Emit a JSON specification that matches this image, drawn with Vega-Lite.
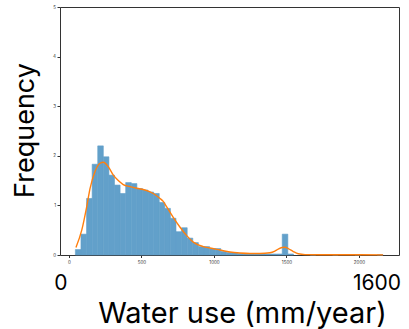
{
  "$schema": "https://vega.github.io/schema/vega-lite/v6.json",
  "width": 339,
  "height": 248,
  "autosize": {"type": "none"},
  "padding": {"left": 60, "top": 7, "right": 10, "bottom": 74},
  "config": {
    "view": {"stroke": "#333", "strokeWidth": 1},
    "font": "Inter",
    "axis": {"grid": false}
  },
  "datasets": {
    "bars": [
      {"x0": 44.0, "x1": 82.6, "h": 0.11},
      {"x0": 82.6, "x1": 121.1, "h": 0.42},
      {"x0": 121.1, "x1": 159.7, "h": 1.14},
      {"x0": 159.7, "x1": 198.2, "h": 1.83},
      {"x0": 198.2, "x1": 236.8, "h": 2.2},
      {"x0": 236.8, "x1": 275.4, "h": 1.98},
      {"x0": 275.4, "x1": 313.9, "h": 1.61},
      {"x0": 313.9, "x1": 352.5, "h": 1.41},
      {"x0": 352.5, "x1": 391.0, "h": 1.24},
      {"x0": 391.0, "x1": 429.6, "h": 1.46},
      {"x0": 429.6, "x1": 468.2, "h": 1.44},
      {"x0": 468.2, "x1": 506.7, "h": 1.34},
      {"x0": 506.7, "x1": 545.3, "h": 1.31},
      {"x0": 545.3, "x1": 583.8, "h": 1.27},
      {"x0": 583.8, "x1": 622.4, "h": 1.24},
      {"x0": 622.4, "x1": 661.0, "h": 1.06},
      {"x0": 661.0, "x1": 699.5, "h": 0.94},
      {"x0": 699.5, "x1": 738.1, "h": 0.74},
      {"x0": 738.1, "x1": 776.6, "h": 0.47},
      {"x0": 776.6, "x1": 815.2, "h": 0.55},
      {"x0": 815.2, "x1": 853.8, "h": 0.34},
      {"x0": 853.8, "x1": 892.3, "h": 0.25},
      {"x0": 892.3, "x1": 930.9, "h": 0.17},
      {"x0": 930.9, "x1": 969.4, "h": 0.17},
      {"x0": 969.4, "x1": 1008.0, "h": 0.13},
      {"x0": 1008.0, "x1": 1046.6, "h": 0.13},
      {"x0": 1046.6, "x1": 1085.1, "h": 0.07},
      {"x0": 1085.1, "x1": 1123.7, "h": 0.05},
      {"x0": 1123.7, "x1": 1162.2, "h": 0.05},
      {"x0": 1162.2, "x1": 1200.8, "h": 0.03},
      {"x0": 1200.8, "x1": 1239.4, "h": 0.03},
      {"x0": 1239.4, "x1": 1277.9, "h": 0.02},
      {"x0": 1277.9, "x1": 1316.5, "h": 0.02},
      {"x0": 1316.5, "x1": 1355.0, "h": 0.02},
      {"x0": 1355.0, "x1": 1393.6, "h": 0.02},
      {"x0": 1393.6, "x1": 1432.2, "h": 0.02},
      {"x0": 1432.2, "x1": 1470.7, "h": 0.02},
      {"x0": 1470.7, "x1": 1509.3, "h": 0.42},
      {"x0": 1509.3, "x1": 1547.8, "h": 0.02},
      {"x0": 1663.5, "x1": 1702.1, "h": 0.006},
      {"x0": 1817.8, "x1": 1856.3, "h": 0.006},
      {"x0": 1972.0, "x1": 2010.6, "h": 0.006},
      {"x0": 2126.2, "x1": 2164.8, "h": 0.006}
    ],
    "kde": [
      {"x": 48, "d": 0.15}, {"x": 88, "d": 0.5}, {"x": 122, "d": 0.97},
      {"x": 145, "d": 1.34}, {"x": 179, "d": 1.68}, {"x": 214, "d": 1.85},
      {"x": 237, "d": 1.87}, {"x": 271, "d": 1.78}, {"x": 306, "d": 1.61},
      {"x": 340, "d": 1.5}, {"x": 374, "d": 1.42}, {"x": 421, "d": 1.38},
      {"x": 478, "d": 1.34}, {"x": 524, "d": 1.31}, {"x": 581, "d": 1.24},
      {"x": 628, "d": 1.14}, {"x": 650, "d": 1.08}, {"x": 674, "d": 0.97},
      {"x": 719, "d": 0.76}, {"x": 766, "d": 0.56}, {"x": 812, "d": 0.39},
      {"x": 857, "d": 0.26}, {"x": 926, "d": 0.17}, {"x": 972, "d": 0.14},
      {"x": 1041, "d": 0.1}, {"x": 1110, "d": 0.06}, {"x": 1179, "d": 0.04},
      {"x": 1248, "d": 0.03}, {"x": 1317, "d": 0.03}, {"x": 1386, "d": 0.045},
      {"x": 1420, "d": 0.08}, {"x": 1443, "d": 0.12}, {"x": 1470, "d": 0.15},
      {"x": 1490, "d": 0.155}, {"x": 1512, "d": 0.13}, {"x": 1547, "d": 0.07},
      {"x": 1581, "d": 0.025}, {"x": 1628, "d": 0.008}, {"x": 1731, "d": 0.005},
      {"x": 1869, "d": 0.005}, {"x": 2007, "d": 0.004}, {"x": 2166, "d": 0.003}
    ]
  },
  "layer": [
    {
      "data": {"name": "bars"},
      "mark": {"type": "rect", "fill": "#62a0ca", "stroke": "#62a0ca", "strokeWidth": 0.6},
      "encoding": {
        "x": {
          "field": "x0", "type": "quantitative",
          "scale": {"domain": [-62, 2276], "nice": false, "zero": false},
          "axis": {
            "orient": "bottom", "values": [0, 500, 1000, 1500, 2000],
            "labelFontSize": 4.5, "tickSize": 2.5, "labelPadding": 1.5,
            "domain": false, "tickColor": "#333", "labelColor": "#333",
            "title": null, "format": "d"
          }
        },
        "x2": {"field": "x1"},
        "y": {
          "field": "h", "type": "quantitative",
          "scale": {"domain": [0, 5], "nice": false},
          "axis": {
            "values": [0, 1, 2, 3, 4, 5], "format": "d",
            "labelFontSize": 4.5, "tickSize": 3, "labelPadding": 1.5,
            "domain": false, "tickColor": "#333", "labelColor": "#333",
            "title": "Frequency", "titleFontSize": 27, "titleFontWeight": "normal",
            "titleColor": "#000", "titleX": -35, "titleY": 123, "titleBaseline": "middle"
          }
        },
        "y2": {"datum": 0}
      }
    },
    {
      "data": {"name": "kde"},
      "mark": {"type": "line", "color": "#ff7f0e", "strokeWidth": 1.4, "interpolate": "monotone"},
      "encoding": {
        "x": {
          "field": "x", "type": "quantitative",
          "axis": {
            "orient": "bottom", "values": [-59, 2121],
            "labelExpr": "datum.value < 0 ? '0' : '1600'",
            "labelFontSize": 21, "ticks": false, "domain": false,
            "labelPadding": 17, "labelColor": "#000", "labelFlush": false, "labelOverlap": false,
            "title": "Water use (mm/year)", "titleFontSize": 29, "titleFontWeight": "normal",
            "titleColor": "#000", "titleX": 182, "titleY": 58, "titleBaseline": "middle"
          }
        },
        "y": {"field": "d", "type": "quantitative", "axis": null}
      }
    }
  ],
  "resolve": {"axis": {"x": "independent", "y": "independent"}}
}
